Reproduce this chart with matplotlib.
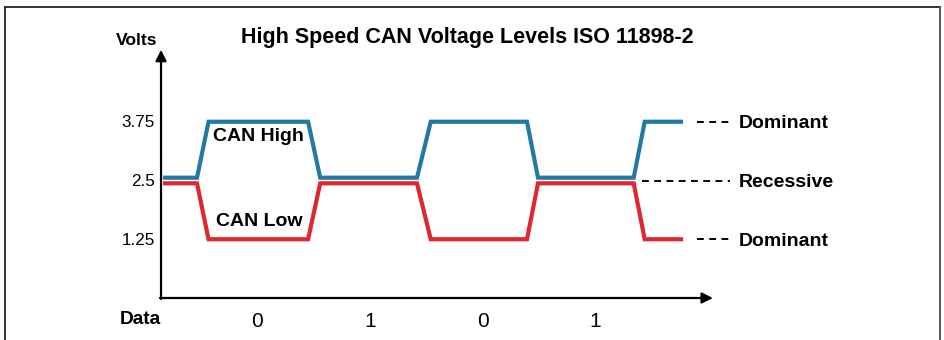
import numpy as np
import matplotlib.pyplot as plt
from matplotlib.lines import Line2D

plt.rcParams['font.family'] = ['Liberation Sans', 'DejaVu Sans']

# time in bit periods, voltage in volts
t_high = [-0.29, 0.0, 0.105, 1.01, 1.12, 2.0, 2.125, 3.0, 3.1, 3.97, 4.07, 4.4]
v_high = [2.56, 2.56, 3.75, 3.75, 2.56, 2.56, 3.75, 3.75, 2.56, 2.56, 3.75, 3.75]
t_low = [-0.29, 0.0, 0.105, 1.01, 1.12, 2.0, 2.125, 3.0, 3.1, 3.97, 4.07, 4.4]
v_low = [2.44, 2.44, 1.25, 1.25, 2.44, 2.44, 1.25, 1.25, 2.44, 2.44, 1.25, 1.25]

yticks = [3.75, 2.5, 1.25]
ytick_labels = ['3.75', '2.5', '1.25']
bits = ['0', '1', '0', '1']
bit_pos = [0.545, 1.573, 2.6, 3.618]
levels = [3.75, 2.5, 1.25]
level_names = ['Dominant', 'Recessive', 'Dominant']

col_high = '#2379a5'
col_low = '#e0262f'

fig = plt.figure(figsize=(9.45, 3.4), dpi=100)
ax = fig.add_axes([0, 0, 1, 1])
ax.set_xlim(-197/110, (945-197)/110)
ax.set_ylim(-42/47, 298/47)
ax.axis('off')

# axes with arrow heads
x0 = -0.327
ax.annotate('', xy=(4.69, 0), xytext=(x0 - 0.01, 0),
            arrowprops=dict(arrowstyle='-|>', lw=1.6, color='black', mutation_scale=16, shrinkA=0, shrinkB=0))
ax.annotate('', xy=(x0, 5.28), xytext=(x0, -0.02),
            arrowprops=dict(arrowstyle='-|>', lw=1.6, color='black', mutation_scale=16, shrinkA=0, shrinkB=0))

ax.plot(t_high, v_high, color=col_high, lw=3.0, solid_joinstyle='miter', zorder=3)
ax.plot(t_low, v_low, color=col_low, lw=3.0, solid_joinstyle='miter', zorder=3)

for v, lab in zip(yticks, ytick_labels):
    ax.text(-0.382, v - 0.02, lab, ha='right', va='center', fontsize=12.3)

for p, b in zip(bit_pos, bits):
    ax.text(p, -0.49, b, ha='center', va='center', fontsize=15)

ax.text(-0.518, -0.45, 'Data', ha='center', va='center', fontsize=13.8, fontweight='bold')
ax.text(-0.545, 5.47, 'Volts', ha='center', va='center', fontsize=12.6, fontweight='bold')
ax.text(2.455, 5.54, 'High Speed CAN Voltage Levels ISO 11898-2', ha='center', va='center',
        fontsize=15.5, fontweight='bold')
ax.text(0.555, 3.43, 'CAN High', ha='center', va='center', fontsize=14, fontweight='bold')
ax.text(0.57, 1.62, 'CAN Low', ha='center', va='center', fontsize=14, fontweight='bold')

# level annotations on the right
for v, name in zip(levels, level_names):
    start = 4.045 if name == 'Recessive' else 4.545
    ax.plot([start, 4.845], [v, v], color='black', lw=1.4, dashes=(3.5, 2.8))
    ax.text(4.925, v - 0.04, name, ha='left', va='center', fontsize=14, fontweight='bold')

# outer frame
fig.add_artist(Line2D([4.5/945, 4.5/945], [0, 1 - 7/340], color='#333333', lw=1.4))
fig.add_artist(Line2D([4.5/945, 940/945], [1 - 7/340, 1 - 7/340], color='#333333', lw=1.4))
fig.add_artist(Line2D([940/945, 940/945], [0, 1 - 7/340], color='#555555', lw=1.4))

fig.savefig('out.png', dpi=100)
